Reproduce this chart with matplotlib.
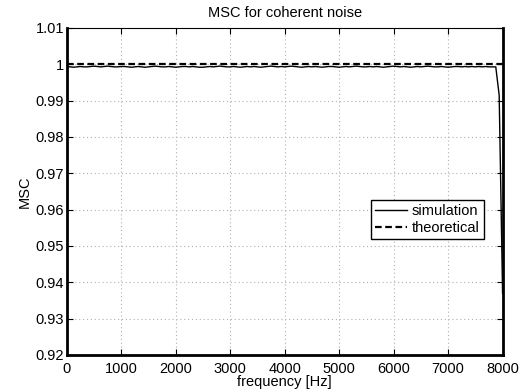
import numpy as np
import matplotlib
matplotlib.use("Agg")
import matplotlib.pyplot as plt

plt.rcParams['font.family'] = ['Liberation Sans', 'DejaVu Sans']
plt.rcParams['font.size'] = 10

# frequency axis, 62.5 Hz bins from 0 to 8000 Hz
df = 62.5
freq = np.arange(0, 8000 + df, df)

# simulated MSC
msc_sim = [
    0.9994, 0.9993, 0.9992, 0.9993, 0.9994, 0.9993, 0.9993, 0.9994,
    0.9995, 0.9994, 0.9993, 0.9994, 0.9995, 0.9994, 0.9993, 0.9993,
    0.9994, 0.9994, 0.9993, 0.9992, 0.9993, 0.9994, 0.9993, 0.9992,
    0.9993, 0.9994, 0.9995, 0.9994, 0.9993, 0.9993, 0.9994, 0.9993,
    0.9992, 0.9993, 0.9994, 0.9994, 0.9993, 0.9994, 0.9993, 0.9992,
    0.9992, 0.9993, 0.9994, 0.9993, 0.9994, 0.9995, 0.9994, 0.9993,
    0.9993, 0.9994, 0.9993, 0.9992, 0.9993, 0.9994, 0.9993, 0.9994,
    0.9993, 0.9992, 0.9993, 0.9994, 0.9995, 0.9994, 0.9993, 0.9994,
    0.9993, 0.9994, 0.9995, 0.9994, 0.9993, 0.9992, 0.9993, 0.9994,
    0.9993, 0.9994, 0.9993, 0.9992, 0.9993, 0.9994, 0.9994, 0.9993,
    0.9992, 0.9993, 0.9994, 0.9993, 0.9994, 0.9995, 0.9994, 0.9993,
    0.9993, 0.9994, 0.9993, 0.9994, 0.9993, 0.9992, 0.9993, 0.9994,
    0.9995, 0.9994, 0.9993, 0.9994, 0.9993, 0.9992, 0.9993, 0.9994,
    0.9993, 0.9994, 0.9995, 0.9994, 0.9993, 0.9993, 0.9994, 0.9993,
    0.9992, 0.9993, 0.9994, 0.9994, 0.9993, 0.9994, 0.9993, 0.9994,
    0.9993, 0.9994, 0.9993, 0.9994, 0.9993, 0.9993, 0.9993, 0.9915,
    0.937,
]
msc_theory = [1.0] * len(freq)

fig = plt.figure(figsize=(5.22, 3.92), dpi=100)
ax = fig.add_axes([0.1278, 0.0944, 0.835, 0.8342])

ax.plot(freq, msc_sim, color='k', lw=1.0, label='simulation')
ax.plot(freq, msc_theory, color='k', lw=1.6, ls=(0, (3, 1.6)), label='theoretical')

ax.set_xlim(0, 8000)
ax.set_ylim(0.92, 1.01)
ax.set_xticks(np.arange(0, 8001, 1000))
ax.set_yticks([0.92, 0.93, 0.94, 0.95, 0.96, 0.97, 0.98, 0.99, 1.0, 1.01])
ax.set_yticklabels(['0.92', '0.93', '0.94', '0.95', '0.96', '0.97', '0.98',
                    '0.99', '1', '1.01'])
ax.grid(True, color='#b0b0b0', ls=(0, (1, 2.5)), lw=0.8)
ax.tick_params(direction='in', top=True, right=True, length=4, width=0.8,
               labelsize=10.5)
ax.tick_params(axis='y', pad=2)
ax.tick_params(axis='x', pad=5)
for side in ['left', 'bottom', 'right']:
    ax.spines[side].set_linewidth(2)
ax.spines['top'].set_linewidth(0.8)

ax.set_title('MSC for coherent noise', fontsize=10.5, pad=8)
ax.set_xlabel('frequency [Hz]', fontsize=10.5, labelpad=-1)
ax.set_ylabel('MSC', fontsize=10.5, labelpad=3)

leg = ax.legend(loc='upper right', bbox_to_anchor=(0.957, 0.475),
                fancybox=False, framealpha=1, edgecolor='k', fontsize=10.5,
                handlelength=2.2, handletextpad=0.3, borderpad=0.3,
                labelspacing=0.2, borderaxespad=0)
leg.get_frame().set_linewidth(1.0)

fig.savefig('out.png', dpi=100)
